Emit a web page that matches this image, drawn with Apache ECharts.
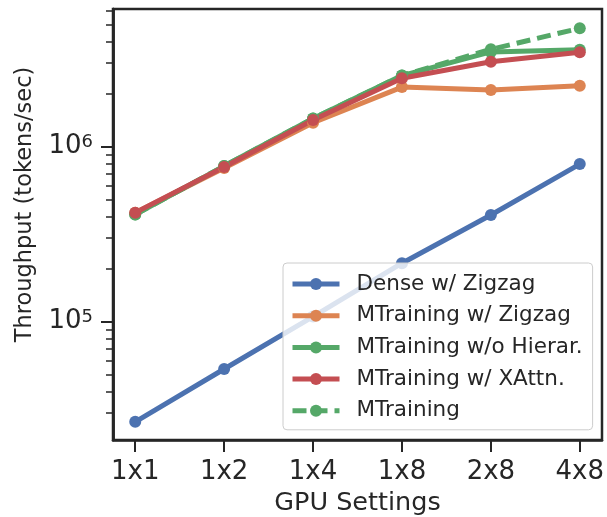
<!DOCTYPE html>
<html>
<head>
<meta charset="utf-8">
<script src="https://cdn.jsdelivr.net/npm/echarts@6/dist/echarts.min.js"></script>
<style>
html, body { margin: 0; padding: 0; background: #fff; }
#chart { width: 607px; height: 517px; }
</style>
</head>
<body>
<div id="chart"></div>
<script>
var categories = ['1x1', '1x2', '1x4', '1x8', '2x8', '4x8'];
var denseZigzag = [2.68e4, 5.37e4, 1.07e5, 2.16e5, 4.07e5, 7.96e5];
var mtZigzag = [4.2e5, 7.55e5, 1.37e6, 2.19e6, 2.11e6, 2.23e6];
var mtNoHier = [4.1e5, 7.75e5, 1.45e6, 2.55e6, 3.48e6, 3.58e6];
var mtXAttn = [4.2e5, 7.65e5, 1.42e6, 2.46e6, 3.06e6, 3.46e6];
var mtFull = [4.1e5, 7.75e5, 1.45e6, 2.55e6, 3.60e6, 4.75e6];
var majorTicks = [1e5, 1e6];
var minorTicks = [3e4, 4e4, 5e4, 6e4, 7e4, 8e4, 9e4, 2e5, 3e5, 4e5, 5e5, 6e5, 7e5, 8e5, 9e5, 2e6, 3e6, 4e6, 5e6, 6e6];

var colorMap = ['#4C72B0', '#DD8452', '#55A868', '#C44E52', '#55A868'];
var dark = '#262626';
var font = 'DejaVu Sans';

function pairs(arr) {
    return arr.map(function (v, i) { return [i, v]; });
}
function mkSeries(name, arr, color, dashed) {
    return {
        name: name,
        type: 'line',
        data: pairs(arr),
        symbol: 'circle',
        symbolSize: 12,
        color: color,
        lineStyle: { width: 5, color: color, type: dashed ? [14, 7] : 'solid' },
        itemStyle: { color: color }
    };
}

var chart = echarts.init(document.getElementById('chart'));
var yBase = {
    type: 'log',
    min: 21100,
    max: 6120000,
    splitLine: { show: false },
    axisLine: { show: true, onZero: false, lineStyle: { color: dark, width: 2.5 } }
};
var option = {
    animation: false,
    grid: {
        left: 113, right: 5, top: 9, bottom: 77,
        outerBoundsMode: 'none',
        show: true, borderColor: dark, borderWidth: 2.5
    },
    legend: {
        data: ['Dense w/ Zigzag', 'MTraining w/ Zigzag', 'MTraining w/o Hierar.', 'MTraining w/ XAttn.', 'MTraining'],
        orient: 'vertical',
        left: 283,
        top: 263,
        itemWidth: 47,
        itemHeight: 15,
        itemGap: 9.7,
        padding: [10, 10, 8, 7],
        backgroundColor: 'rgba(255,255,255,0.8)',
        borderColor: '#cccccc',
        borderWidth: 1,
        borderRadius: 4,
        lineStyle: { width: 5 },
        textStyle: { fontFamily: font, fontSize: 21.5, color: dark, lineHeight: 22, padding: [0, 0, 0, 12] }
    },
    xAxis: {
        type: 'value',
        min: -0.25,
        max: 5.25,
        name: 'GPU Settings',
        nameLocation: 'middle',
        nameGap: 50,
        nameTextStyle: { fontFamily: font, fontSize: 25.5, color: dark },
        splitLine: { show: false },
        axisLine: { onZero: false, lineStyle: { color: dark, width: 2.5 } },
        axisTick: { length: 12, lineStyle: { color: dark, width: 2 }, customValues: [0, 1, 2, 3, 4, 5] },
        axisLabel: {
            customValues: [0, 1, 2, 3, 4, 5],
            margin: 19,
            fontFamily: font, fontSize: 26, color: dark,
            formatter: function (v) { return categories[Math.round(v)]; }
        }
    },
    yAxis: [
        Object.assign({}, yBase, {
            name: 'Throughput (tokens/sec)',
            nameLocation: 'middle',
            nameGap: 76,
            nameTextStyle: { fontFamily: font, fontSize: 22.5, color: dark, padding: [0, 0, 0, 40] },
            axisTick: { length: 12, lineStyle: { color: dark, width: 2 }, customValues: majorTicks },
            axisLabel: {
                customValues: majorTicks,
                margin: 20,
                formatter: function (v) {
                    return '{b|10}{s|' + Math.round(Math.log10(v)) + '}';
                },
                rich: {
                    b: { fontFamily: font, fontSize: 26, color: dark, lineHeight: 26, padding: [10, 0, 10, 0] },
                    s: { fontFamily: font, fontSize: 18, color: dark, lineHeight: 18, verticalAlign: 'top' }
                }
            }
        }),
        Object.assign({}, yBase, {
            position: 'left',
            axisTick: { length: 7, lineStyle: { color: dark, width: 1.5 }, customValues: minorTicks },
            axisLabel: { show: false }
        })
    ],
    series: [
        mkSeries('Dense w/ Zigzag', denseZigzag, colorMap[0]),
        mkSeries('MTraining w/ Zigzag', mtZigzag, colorMap[1]),
        mkSeries('MTraining', mtFull, colorMap[4], true),
        mkSeries('MTraining w/o Hierar.', mtNoHier, colorMap[2]),
        mkSeries('MTraining w/ XAttn.', mtXAttn, colorMap[3])
    ]
};
chart.setOption(option);
</script>
</body>
</html>
